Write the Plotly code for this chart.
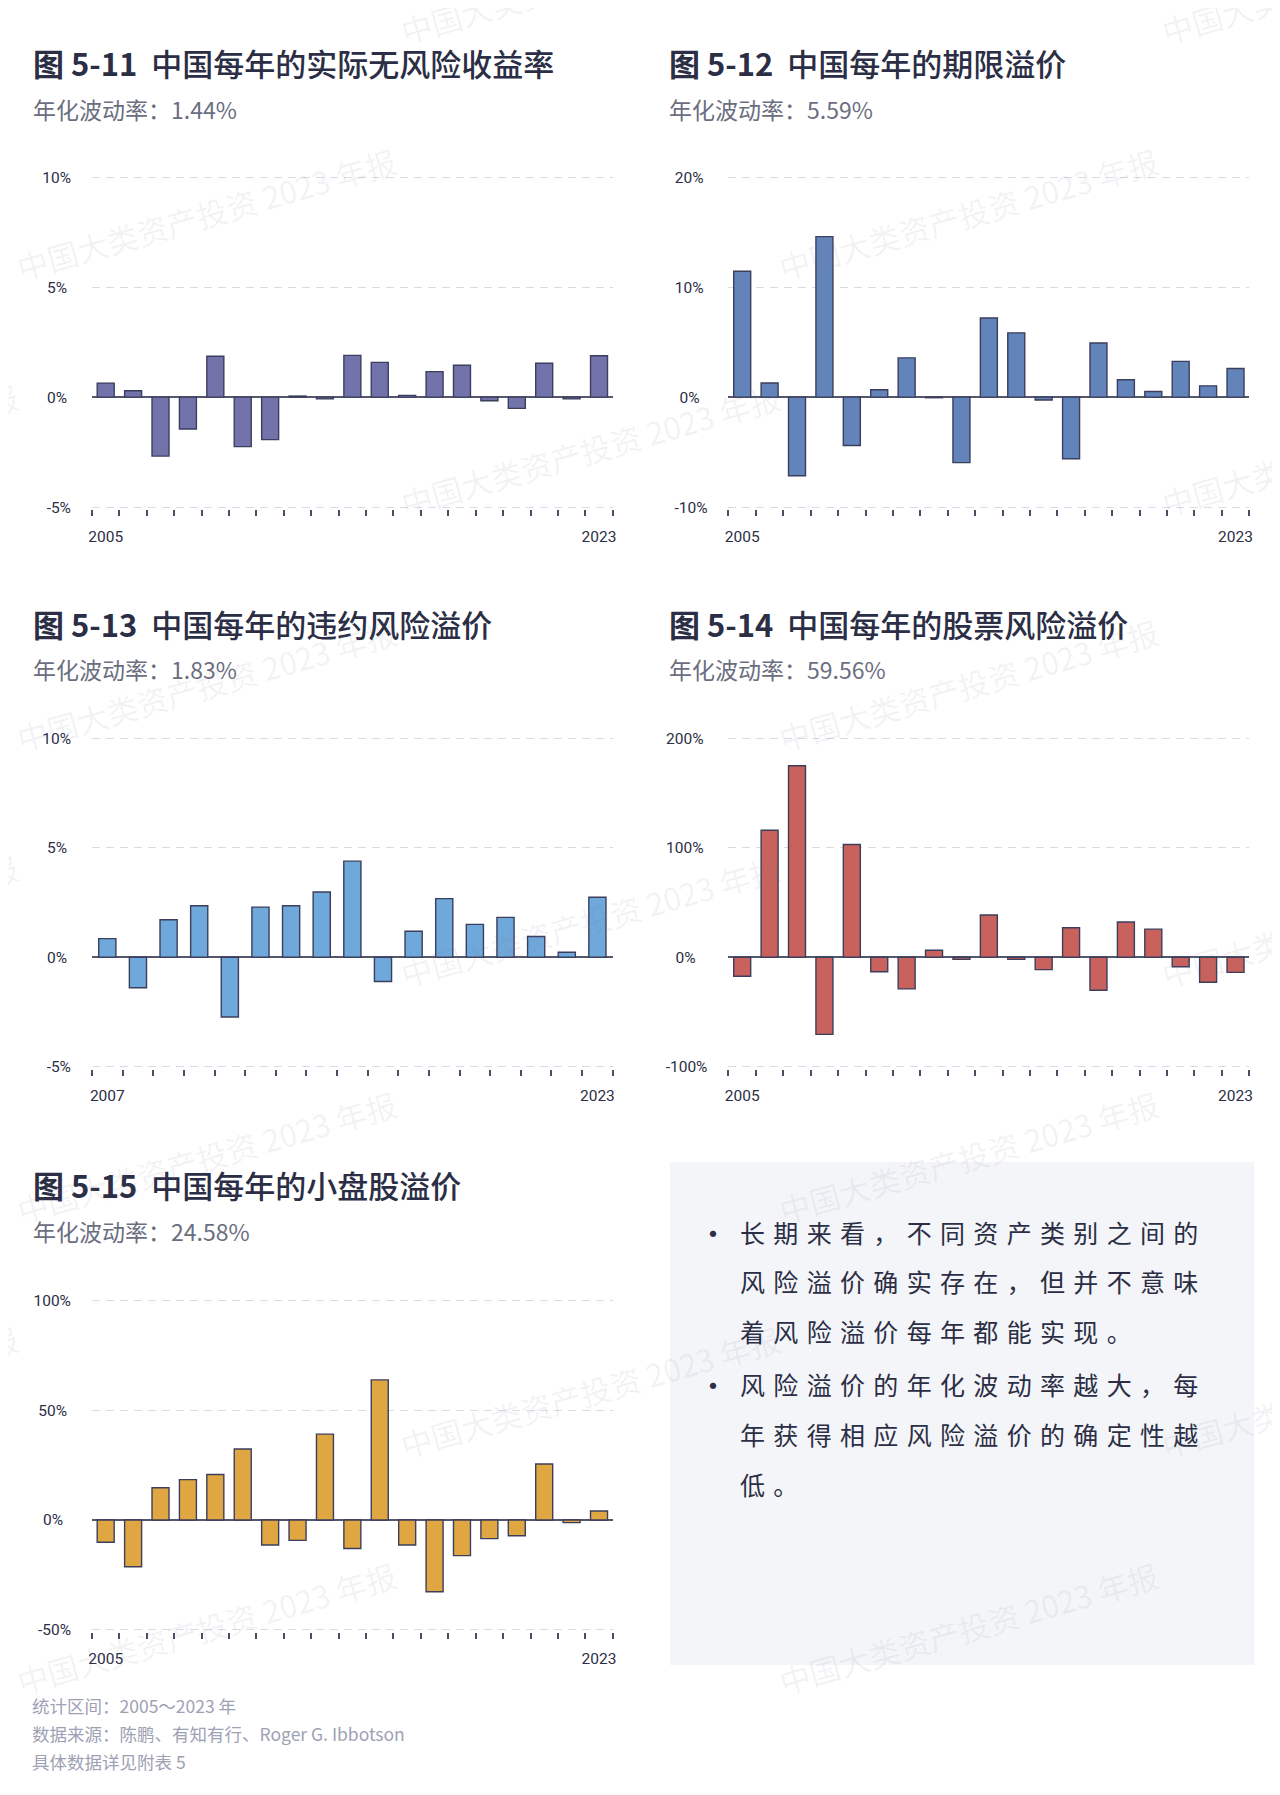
import plotly.graph_objects as go

# ---------------- data ----------------
years_a = list(range(2005, 2024))
years_b = list(range(2007, 2024))

real_rf = [0.64, 0.29, -2.68, -1.45, 1.86, -2.25, -1.93, 0.05, -0.08, 1.90,
           1.58, 0.08, 1.16, 1.45, -0.16, -0.51, 1.54, -0.08, 1.88]
term_prem = [11.45, 1.29, -7.14, 14.6, -4.4, 0.68, 3.57, -0.05, -5.95, 7.2,
             5.85, -0.26, -5.6, 4.92, 1.58, 0.51, 3.25, 1.03, 2.6]
default_prem = [0.85, -1.39, 1.71, 2.35, -2.73, 2.29, 2.35, 2.98, 4.39, -1.11,
                1.19, 2.68, 1.5, 1.82, 0.95, 0.23, 2.74]
equity_prem = [-17.4, 116, 175, -70.4, 103, -13.2, -28.9, 6.4, -1.9, 38.6,
               -1.9, -11.3, 27, -30.2, 32.2, 25.7, -8.7, -22.8, -13.8]
small_prem = [-10.1, -21.3, 14.7, 18.4, 20.7, 32.3, -11.4, -9.3, 39.1, -13.0,
              63.8, -11.4, -32.7, -16.2, -8.5, -7.2, 25.5, -1.2, 4.1]

titles = ["图 5-11", "图 5-12", "图 5-13", "图 5-14", "图 5-15"]
names = ["中国每年的实际无风险收益率", "中国每年的期限溢价", "中国每年的违约风险溢价",
         "中国每年的股票风险溢价", "中国每年的小盘股溢价"]
vols = ["1.44%", "5.59%", "1.83%", "59.56%", "24.58%"]

y_ticks = [[-5, 0, 5, 10], [-10, 0, 10, 20], [-5, 0, 5, 10], [-100, 0, 100, 200], [-50, 0, 50, 100]]

bullets = [
    ["长期来看，不同资产类别之间的", "风险溢价确实存在，但并不意味", "着风险溢价每年都能实现。"],
    ["风险溢价的年化波动率越大，每", "年获得相应风险溢价的确定性越", "低。"],
]
footnotes = ["统计区间：2005～2023 年", "数据来源：陈鹏、有知有行、Roger G. Ibbotson", "具体数据详见附表 5"]
watermark = "中国大类资产投资 2023 年报"

colors = ["#7273ab", "#6384bb", "#6fa8da", "#c9625c", "#e0a642"]

# ---------------- layout helpers ----------------
W, H = 1280, 1795
series = [(years_a, real_rf), (years_a, term_prem), (years_b, default_prem),
          (years_a, equity_prem), (years_a, small_prem)]
# plot boxes in pixels (left, right, top-tick, bottom-tick)
boxes = [(80.5, 604.5, 163.5, 496), (721, 1245, 163.5, 496),
         (80.5, 604.5, 729, 1060), (721, 1245, 729, 1060),
         (80.5, 604.5, 1295.5, 1627.5)]
title_y = [48, 48, 613, 613, 1179]
sub_y = [95, 95, 659, 659, 1226]

FONT = "Noto Sans CJK SC, Noto Sans, sans-serif"
NUMFONT = "Roboto, Noto Sans, sans-serif"
DARK = "#2b2e45"
fig = go.Figure()
layout = dict(width=W, height=H, margin=dict(l=0, r=0, t=0, b=0),
              paper_bgcolor="white", plot_bgcolor="rgba(0,0,0,0)",
              showlegend=False, font=dict(family=FONT, color=DARK))
annotations = []
shapes = []
EPS = 2.0  # px of padding so edge gridlines are drawn


def label_units(s):
    return sum(0.6 if c == "-" else 1.0 for c in s if c != "%")


def centred_labels(vals):
    raw = [f"{v}%" for v in vals]
    mx = max(label_units(s) for s in raw)
    return [s + "\u2005" * int(round((mx - label_units(s)) * 1.1)) for s in raw]


for i, ((xs, ys), (l, r, t, b)) in enumerate(zip(series, boxes)):
    k = "" if i == 0 else str(i + 1)
    fig.add_trace(go.Bar(x=xs, y=ys, xaxis="x" + k, yaxis="y" + k,
                         marker=dict(color=colors[i], line=dict(color="#3b3e5c", width=1.4)),
                         width=0.62 if len(xs) == 19 else 0.56))
    ticks = y_ticks[i]
    per_px = (ticks[-1] - ticks[0]) / (b - t)
    layout["xaxis" + k] = dict(
        domain=[l / W, r / W], anchor="y" + k,
        range=[xs[0] - 0.5, xs[-1] + 0.5],
        tickmode="array", tickvals=[xs[0], xs[-1]], ticktext=[str(xs[0]), str(xs[-1])],
        ticks="", showgrid=False, zeroline=False, showline=False,
        tickfont=dict(size=15.5, color=DARK, family=NUMFONT),
        ticklabelstandoff=16,
        minor=dict(ticks="outside", tickmode="array",
                   tickvals=[x - 0.5 for x in xs] + [xs[-1] + 0.5],
                   ticklen=6, tickwidth=1.5, tickcolor="#4a4d63", showgrid=False),
    )
    layout["yaxis" + k] = dict(
        domain=[1 - (b + EPS) / H, 1 - (t - EPS) / H], anchor="x" + k,
        range=[ticks[0] - EPS * per_px, ticks[-1] + EPS * per_px],
        tickmode="array", tickvals=ticks, ticktext=centred_labels(ticks),
        ticks="", showline=False,
        showgrid=True, gridcolor="#d9dbe4", gridwidth=1.2, griddash="8px,6px",
        zeroline=True, zerolinecolor="#55586d", zerolinewidth=1.6,
        tickfont=dict(size=15.5, color=DARK, family=NUMFONT),
        ticklabelstandoff=20,
    )
    x0 = 19 if l < 640 else 659
    annotations.append(dict(
        text=f"<b>{titles[i]}</b>  {names[i]}", x=x0 / W, y=1 - title_y[i] / H,
        xref="paper", yref="paper", xanchor="left", yanchor="middle", showarrow=False,
        font=dict(size=31, color=DARK, family=FONT, weight=500)))
    annotations.append(dict(
        text=f"年化波动率：{vols[i]}", x=x0 / W, y=1 - sub_y[i] / H,
        xref="paper", yref="paper", xanchor="left", yanchor="middle", showarrow=False,
        font=dict(size=23, color="#6b6e80", family=FONT)))

# text box
shapes.append(dict(type="rect", xref="paper", yref="paper",
                   x0=662 / W, x1=1250 / W, y0=1 - 1663 / H, y1=1 - 1156 / H,
                   fillcolor="#f4f5f8", line=dict(width=0), layer="below"))
line_y = [[1227, 1276, 1326], [1380, 1430, 1481]]
for bi, blines in enumerate(bullets):
    annotations.append(dict(text="•", x=705 / W, y=1 - line_y[bi][0] / H,
                            xref="paper", yref="paper", xanchor="center", yanchor="middle",
                            showarrow=False, font=dict(size=30, color=DARK, family=FONT)))
    for li, txt in enumerate(blines):
        spaced = "\u2004".join(list(txt))
        annotations.append(dict(text=spaced, x=731 / W, y=1 - line_y[bi][li] / H,
                                xref="paper", yref="paper", xanchor="left", yanchor="middle",
                                showarrow=False, font=dict(size=25, color=DARK, family=FONT)))

# footnotes
for fi, (txt, fy) in enumerate(zip(footnotes, [1704, 1732, 1760])):
    annotations.append(dict(text=txt, x=18 / W, y=1 - fy / H, xref="paper", yref="paper",
                            xanchor="left", yanchor="middle", showarrow=False,
                            font=dict(size=17.5, color="#9ea1b4", family=FONT)))

# watermarks
for row in range(-1, 8):
    cy = 200 + 237.5 * row
    xs_w = [196, 963] if row % 2 == 0 else [-185, 582, 1348]
    for cx in xs_w:
        annotations.append(dict(text=watermark, x=cx / W, y=1 - cy / H, xref="paper", yref="paper",
                                xanchor="center", yanchor="middle", showarrow=False, textangle=-16,
                                font=dict(size=31, color="rgba(120,125,150,0.09)", family=FONT)))

layout["annotations"] = annotations
layout["shapes"] = shapes
fig.update_layout(**layout)
fig.write_html("out.html")
